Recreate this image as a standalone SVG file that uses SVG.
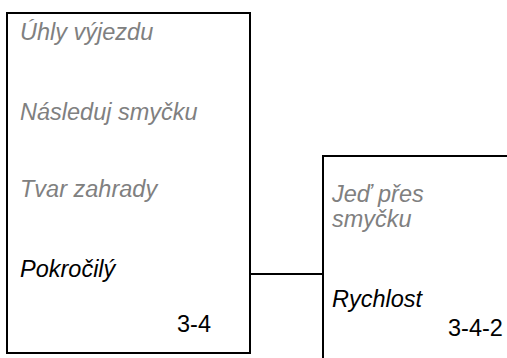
<svg xmlns="http://www.w3.org/2000/svg" width="507" height="358" viewBox="0 0 507 358">
<style>
.box{fill:#fff;stroke:#000;stroke-width:2}
.t{font-family:"Liberation Sans",Arial,sans-serif;font-size:23.5px}
.g{fill:#808080;font-style:italic}
.k{fill:#000;font-style:italic}
.n{fill:#000}
.c{stroke:#000;stroke-width:2;fill:none}
</style>
<rect width="507" height="358" fill="#fff"/>
<g id="connectors">
<line class="c" x1="250" y1="274" x2="323" y2="274"/>
</g>
<g id="node-3-4">
<rect class="box" x="7" y="13" width="243" height="340"/>
<text class="t g" x="20" y="40">Úhly výjezdu</text>
<text class="t g" x="20" y="120">Následuj smyčku</text>
<text class="t g" x="20" y="197">Tvar zahrady</text>
<text class="t k" x="20" y="277">Pokročilý</text>
<text class="t n" x="177" y="332">3-4</text>
</g>
<g id="node-3-4-2">
<rect class="box" x="323" y="156" width="200" height="220"/>
<text class="t g" x="332" y="202">Jeď přes</text>
<text class="t g" x="332" y="227">smyčku</text>
<text class="t k" x="332" y="307">Rychlost</text>
<text class="t n" x="448" y="336">3-4-2</text>
</g>
</svg>
